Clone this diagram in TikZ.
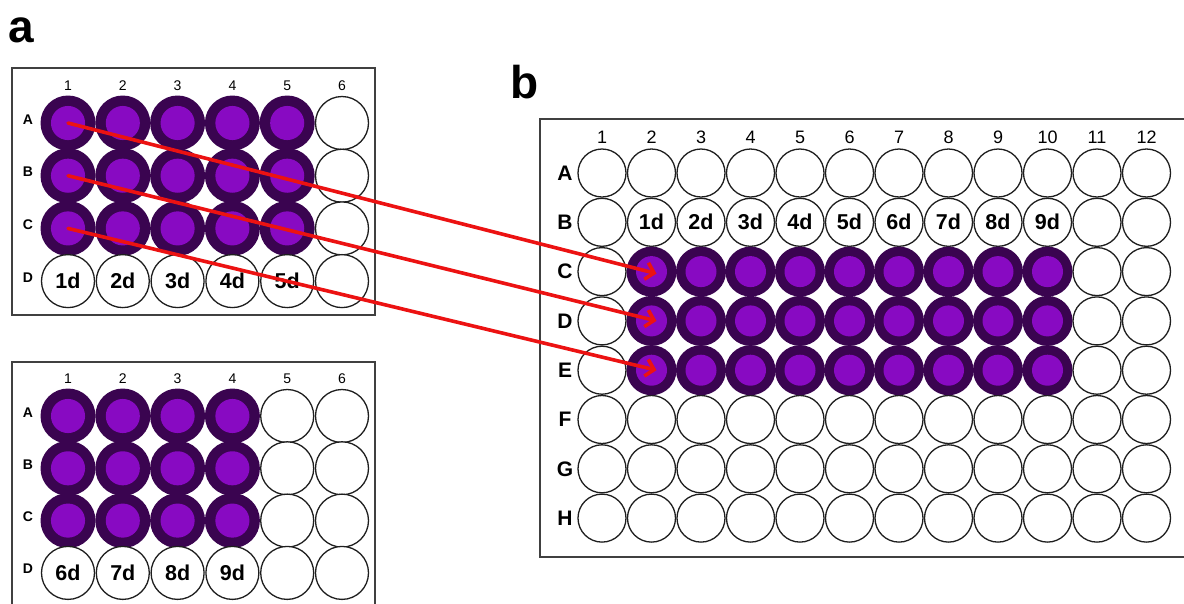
\documentclass[tikz,border=0pt]{standalone}
\usepackage{fontspec}
\setmainfont{Liberation Sans}
\usetikzlibrary{arrows.meta}
\definecolor{ringpurple}{RGB}{58,4,80}
\definecolor{corepurple}{RGB}{136,10,194}
\definecolor{arrowred}{RGB}{236,18,18}
\definecolor{wellline}{RGB}{30,30,30}
\definecolor{plateline}{RGB}{64,64,64}
\tikzset{
  plate/.style={draw=plateline, line width=1.6pt, fill=white},
  wellbase/.style={circle, inner sep=0pt, minimum size=#1},
  emptywell/.style={wellbase=#1, draw=wellline, line width=1.3pt, fill=white},
  fullwell/.style={wellbase=#1, fill=ringpurple,
    path picture={\fill[corepurple] (path picture bounding box.center) circle ({0.31*#1});}},
  smallnum/.style={anchor=base, font=\fontsize{14}{14}\selectfont},
  smallrow/.style={anchor=base, font=\bfseries\fontsize{14}{14}\selectfont},
  bignum/.style={anchor=base, font=\fontsize{18}{18}\selectfont},
  bigrow/.style={anchor=center, font=\bfseries\fontsize{21}{21}\selectfont},
  daylabel/.style={font=\bfseries\fontsize{21.5}{21.5}\selectfont},
  panel/.style={anchor=base, font=\bfseries\fontsize{46}{46}\selectfont},
  link/.style={draw=arrowred, line width=3.6pt, line cap=round,
    -{Straight Barb[length=8pt, width=17pt]}},
}
\begin{document}
\begin{tikzpicture}[x=1pt, y=-1pt]
\useasboundingbox (0,0) rectangle (1184,603);
\clip (0,0) rectangle (1184,603);

% panel letters
\node[panel] (lbl-a) at (21.5,42) {a};
\node[panel] (lbl-b) at (525,98) {b};

% ---------- 24-well plate, top ----------
\draw[plate] (12,68) rectangle (375,315);
\foreach \c in {1,...,6}
  \node[smallnum] (t-col\c) at ({68+54.8*(\c-1)},90) {\c};
\foreach \r [count=\i] in {A,B,C,D}
  \node[smallrow] (t-row\r) at (28,{124+52.7*(\i-1)}) {\r};
\foreach \r [count=\i] in {A,B,C}
  \foreach \c in {1,...,5}
    \node[fullwell=55pt] (t-\r\c) at ({68+54.8*(\c-1)},{123+52.7*(\i-1)}) {};
\foreach \r [count=\i] in {A,B,C,D}
  \node[emptywell=53pt] (t-\r6) at ({68+54.8*5},{123+52.7*(\i-1)}) {};
\foreach \c in {1,...,5}
  \node[emptywell=53pt, daylabel] (t-D\c) at ({68+54.8*(\c-1)},{123+52.7*3}) {\c d};

% ---------- 24-well plate, bottom ----------
\draw[plate] (12,362) rectangle (375,640);
\foreach \c in {1,...,6}
  \node[smallnum] (u-col\c) at ({68+54.8*(\c-1)},383) {\c};
\foreach \r [count=\i] in {A,B,C,D}
  \node[smallrow] (u-row\r) at (28,{417+52.3*(\i-1)}) {\r};
\foreach \r [count=\i] in {A,B,C}
  \foreach \c in {1,...,4}
    \node[fullwell=55pt] (u-\r\c) at ({68+54.8*(\c-1)},{416+52.3*(\i-1)}) {};
\foreach \r [count=\i] in {A,B,C,D}
  \foreach \c in {5,6}
    \node[emptywell=53pt] (u-\r\c) at ({68+54.8*(\c-1)},{416+52.3*(\i-1)}) {};
\foreach \c [evaluate=\c as \d using int(\c+5)] in {1,...,4}
  \node[emptywell=53pt, daylabel] (u-D\c) at ({68+54.8*(\c-1)},{416+52.3*3}) {\d d};

% ---------- 96-well plate ----------
\draw[plate] (540,119) rectangle (1200,557);
\foreach \c in {1,...,12}
  \node[bignum] (r-col\c) at ({602+49.5*(\c-1)},143) {\c};
\foreach \r [count=\i] in {A,B,C,D,E,F,G,H}
  \node[bigrow] (r-row\r) at (565,{173+49.3*(\i-1)}) {\r};
% untouched rows
\foreach \r/\i in {A/1,F/6,G/7,H/8}
  \foreach \c in {1,...,12}
    \node[emptywell=48pt] (r-\r\c) at ({602+49.5*(\c-1)},{173+49.3*(\i-1)}) {};
% side columns of rows B to E
\foreach \r/\i in {B/2,C/3,D/4,E/5}
  \foreach \c in {1,11,12}
    \node[emptywell=48pt] (r-\r\c) at ({602+49.5*(\c-1)},{173+49.3*(\i-1)}) {};
% row B with day labels
\foreach \c [evaluate=\c as \d using int(\c-1)] in {2,...,10}
  \node[emptywell=48pt, daylabel] (r-B\c) at ({602+49.5*(\c-1)},{173+49.3}) {\d d};
% filled rows C to E
\foreach \r/\i in {C/3,D/4,E/5}
  \foreach \c in {2,...,10}
    \node[fullwell=50pt] (r-\r\c) at ({602+49.5*(\c-1)},{173+49.3*(\i-1)}) {};

% transfer arrows
\draw[link] (t-A1.center) -- ([xshift=5pt,yshift=-2pt]r-C2.center);
\draw[link] (t-B1.center) -- ([xshift=5pt]r-D2.center);
\draw[link] (t-C1.center) -- ([xshift=5pt]r-E2.center);
\end{tikzpicture}
\end{document}
